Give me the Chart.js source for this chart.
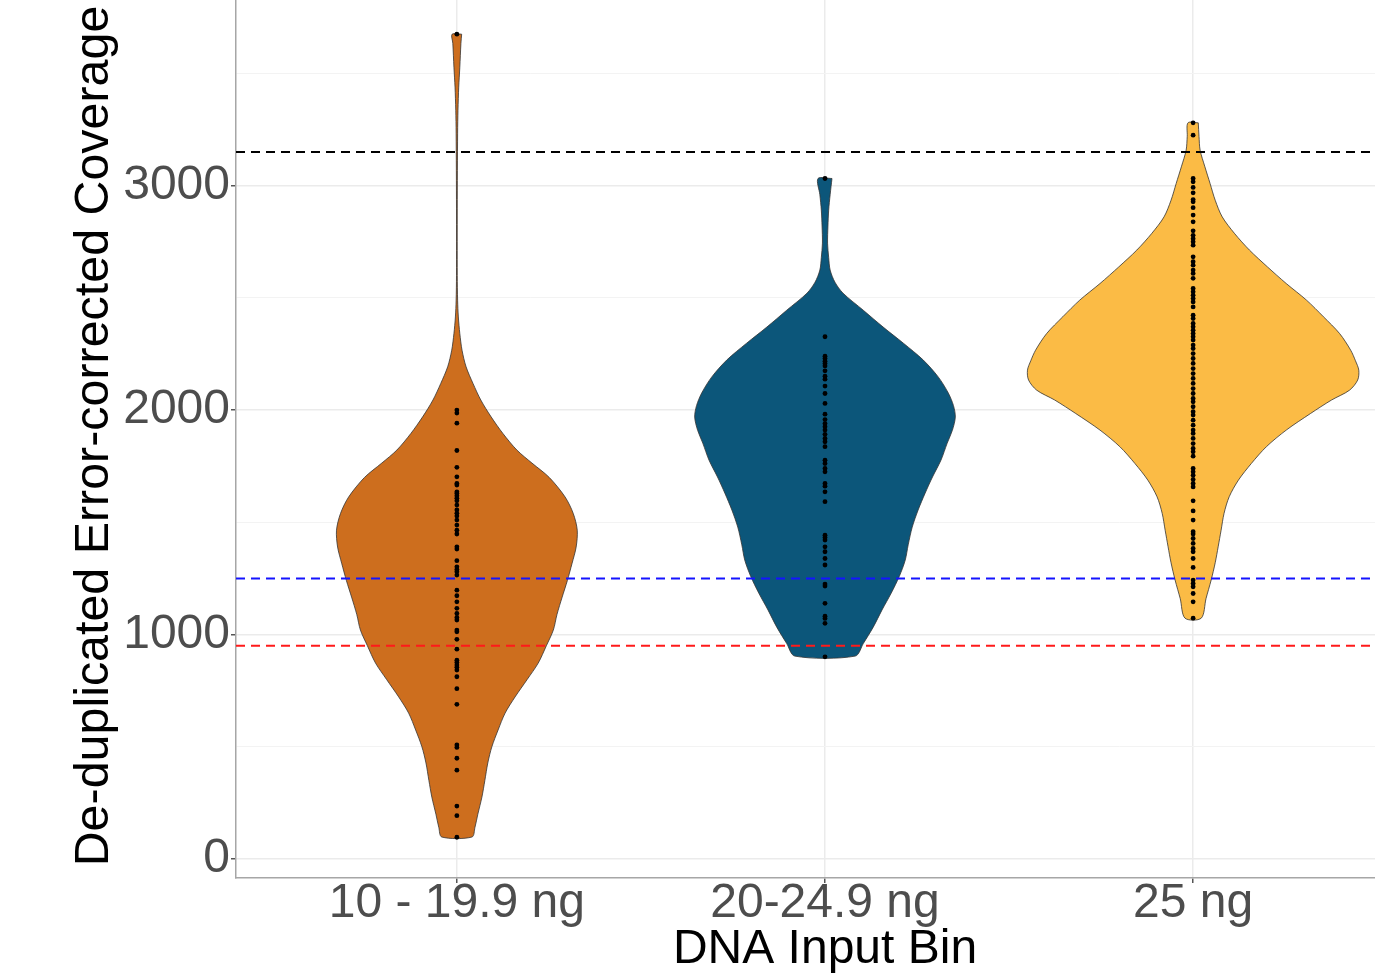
<!DOCTYPE html>
<html lang="en">
<head>
    <meta charset="UTF-8">
    <title>Coverage by DNA Input Bin</title>
    <script src="https://cdn.jsdelivr.net/npm/chart.js"></script>
    <style>
        /* the original figure is cropped on the right and top, so the canvas is a bit larger than the window */
        html, body { margin: 0; background: #fff; overflow: hidden; }
        #violinChart { display: block; margin-top: -6px; }
    </style>
</head>
<body>
    <canvas id="violinChart" width="1414" height="982"></canvas>

    <script>
        // categories on the x axis
        const groups = ['10 - 19.9 ng', '20-24.9 ng', '25 ng'];
        const groupColors = ['#CD6E1E', '#0C567A', '#FBBB45'];

        // y tick values
        const yMajorTicks = [0, 1000, 2000, 3000];
        const yMinorTicks = [500, 1500, 2500, 3500];

        // threshold lines
        const thresholdValues = [3150, 1250, 950];
        const thresholdColors = ['#000000', '#1414FF', '#FF1A1A'];

        // violin outlines: coverage level and half width (in category units)
        const levels1 = [3675, 3634, 3528, 3439, 3336, 3234, 2900, 2600, 2490, 2415, 2341, 2267, 2193, 2118, 2045, 1970, 1896, 1822, 1764, 1700, 1613, 1540, 1465, 1390, 1318, 1240, 1167, 1090, 1020, 950, 873, 800, 722, 650, 575, 500, 428, 350, 276, 200, 140, 98];
        const halfWidth1 = [0.013, 0.011, 0.008, 0.005, 0.003, 0.002, 0.001, 0.001, 0.002, 0.004, 0.008, 0.014, 0.025, 0.044, 0.065, 0.093, 0.125, 0.163, 0.204, 0.251, 0.294, 0.316, 0.327, 0.324, 0.313, 0.300, 0.286, 0.272, 0.262, 0.243, 0.221, 0.191, 0.158, 0.131, 0.112, 0.095, 0.084, 0.076, 0.068, 0.057, 0.049, 0.041];

        const levels2 = [3032, 2960, 2891, 2820, 2744, 2680, 2624, 2570, 2521, 2445, 2370, 2298, 2223, 2147, 2076, 2020, 1969, 1910, 1853, 1777, 1702, 1630, 1555, 1479, 1400, 1332, 1260, 1185, 1110, 1033, 960, 904];
        const halfWidth2 = [0.019, 0.014, 0.010, 0.008, 0.007, 0.010, 0.014, 0.027, 0.049, 0.104, 0.158, 0.213, 0.267, 0.308, 0.335, 0.349, 0.354, 0.346, 0.332, 0.315, 0.292, 0.272, 0.253, 0.237, 0.226, 0.218, 0.202, 0.180, 0.155, 0.131, 0.104, 0.082];

        const levels3 = [3280, 3220, 3158, 3084, 3010, 2935, 2861, 2788, 2713, 2638, 2564, 2490, 2416, 2341, 2267, 2220, 2178, 2134, 2089, 2045, 1985, 1911, 1837, 1762, 1688, 1614, 1540, 1465, 1391, 1320, 1243, 1160, 1073];
        const halfWidth3 = [0.014, 0.016, 0.019, 0.032, 0.046, 0.060, 0.079, 0.112, 0.153, 0.202, 0.253, 0.308, 0.354, 0.398, 0.428, 0.441, 0.450, 0.447, 0.425, 0.376, 0.319, 0.253, 0.199, 0.158, 0.123, 0.098, 0.084, 0.076, 0.068, 0.060, 0.049, 0.035, 0.022];

        // individual samples
        const samples1 = [3675, 2000, 1987, 1942, 1820, 1745, 1703, 1673, 1666, 1636, 1629, 1618, 1607, 1596, 1577, 1555, 1540, 1528, 1510, 1488, 1465, 1448, 1391, 1381, 1329, 1302, 1290, 1280, 1265, 1198, 1173, 1146, 1117, 1094, 1076, 1065, 1020, 1012, 979, 935, 886, 876, 864, 854, 842, 812, 759, 689, 508, 497, 449, 396, 236, 193, 97];
        const samples2 = [3032, 2327, 2240, 2230, 2218, 2208, 2197, 2175, 2151, 2138, 2107, 2074, 2030, 1982, 1958, 1940, 1926, 1911, 1892, 1874, 1859, 1837, 1777, 1762, 1740, 1725, 1673, 1661, 1636, 1592, 1443, 1433, 1421, 1391, 1369, 1339, 1310, 1225, 1216, 1139, 1082, 1072, 1050, 901];
        const samples3 = [3280, 3225, 3032, 3017, 2992, 2968, 2938, 2928, 2902, 2869, 2839, 2799, 2779, 2764, 2750, 2735, 2683, 2661, 2646, 2624, 2609, 2587, 2542, 2527, 2512, 2497, 2482, 2460, 2423, 2408, 2386, 2371, 2356, 2341, 2327, 2312, 2290, 2274, 2252, 2230, 2208, 2185, 2163, 2141, 2119, 2096, 2074, 2052, 2037, 2015, 1993, 1978, 1955, 1933, 1911, 1896, 1874, 1851, 1829, 1814, 1795, 1740, 1725, 1710, 1691, 1673, 1658, 1596, 1551, 1510, 1458, 1448, 1428, 1406, 1384, 1369, 1339, 1299, 1243, 1228, 1213, 1183, 1146, 1073];

        const X_MIN = 0.4, X_MAX = 3.6;
        const Y_MIN = -84.6, Y_MAX = 3854;
        const FONT = "'Liberation Sans', Arial, sans-serif";

        // build a closed outline: right side going down, left side going up
        function violinOutline(center, levels, half) {
            const pts = [];
            for (let i = 0; i < levels.length; i++) pts.push({ x: center + half[i], y: levels[i] });
            for (let i = levels.length - 1; i >= 0; i--) pts.push({ x: center - half[i], y: levels[i] });
            pts.push(pts[0]);
            return pts;
        }

        const violins = [[levels1, halfWidth1], [levels2, halfWidth2], [levels3, halfWidth3]];
        const samples = [samples1, samples2, samples3];

        const datasets = [];

        violins.forEach(([lv, hw], i) => {
            datasets.push({
                type: 'scatter',
                data: violinOutline(i + 1, lv, hw),
                showLine: true,
                fill: 'shape',
                backgroundColor: groupColors[i],
                borderColor: '#333333',
                borderWidth: 0.8,
                tension: 0.3,
                pointRadius: 0,
                order: 2
            });
        });

        thresholdValues.forEach((v, i) => {
            datasets.push({
                type: 'scatter',
                data: [{ x: X_MIN, y: v }, { x: X_MAX, y: v }],
                showLine: true,
                fill: false,
                borderColor: thresholdColors[i],
                borderWidth: 2,
                borderDash: [9, 6],
                pointRadius: 0,
                order: 1
            });
        });

        samples.forEach((vals, i) => {
            datasets.push({
                type: 'scatter',
                data: vals.map(v => ({ x: i + 1, y: v })),
                backgroundColor: '#000000',
                borderWidth: 0,
                pointRadius: 2.4,
                order: 0
            });
        });

        const ctx = document.getElementById('violinChart').getContext('2d');
        new Chart(ctx, {
            type: 'scatter',
            data: { datasets: datasets },
            options: {
                responsive: false,
                animation: false,
                layout: { padding: 0, autoPadding: false },
                plugins: {
                    legend: { display: false },
                    tooltip: { enabled: false }
                },
                scales: {
                    x: {
                        type: 'linear',
                        min: X_MIN,
                        max: X_MAX,
                        afterBuildTicks: s => { s.ticks = groups.map((g, i) => ({ value: i + 1 })); },
                        afterFit: s => { s.height = 98; s.paddingLeft = 0; s.paddingRight = 0; },
                        ticks: {
                            callback: (v, i) => groups[i],
                            autoSkip: false,
                            maxRotation: 0,
                            color: '#4D4D4D',
                            padding: -8,
                            font: { family: FONT, size: 48 }
                        },
                        grid: { color: '#EBEBEB', lineWidth: 1.5, tickColor: '#555555', tickLength: 5 },
                        border: { color: '#A6A6A6', width: 1.5 },
                        title: {
                            display: true,
                            text: 'DNA Input Bin',
                            color: '#000000',
                            padding: { top: 0, bottom: -3 },
                            font: { family: FONT, size: 48 }
                        }
                    },
                    y: {
                        type: 'linear',
                        min: Y_MIN,
                        max: Y_MAX,
                        afterBuildTicks: s => {
                            s.ticks = yMajorTicks.concat(yMinorTicks).sort((a, b) => a - b).map(v => ({ value: v }));
                        },
                        afterFit: s => { s.width = 236; s.paddingTop = 0; s.paddingBottom = 0; },
                        ticks: {
                            callback: v => yMajorTicks.includes(v) ? String(v) : '',
                            color: '#4D4D4D',
                            padding: 1,
                            font: { family: FONT, size: 48 }
                        },
                        grid: {
                            color: c => yMajorTicks.includes(c.tick.value) ? '#EBEBEB' : '#F3F3F3',
                            lineWidth: c => yMajorTicks.includes(c.tick.value) ? 1.5 : 1,
                            tickColor: c => yMajorTicks.includes(c.tick.value) ? '#555555' : 'rgba(0,0,0,0)',
                            tickLength: 5
                        },
                        border: { color: '#A6A6A6', width: 1.5 },
                        title: {
                            display: true,
                            text: 'De-duplicated Error-corrected Coverage',
                            color: '#000000',
                            padding: { top: 66, bottom: 0 },
                            font: { family: FONT, size: 48.4 }
                        }
                    }
                }
            }
        });
    </script>
</body>
</html>
